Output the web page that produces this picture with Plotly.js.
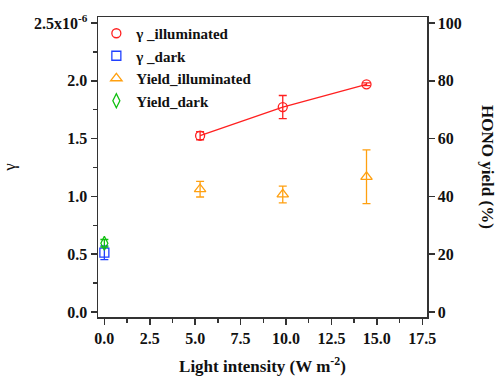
<!DOCTYPE html>
<html><head><meta charset="utf-8">
<script src="https://cdn.plot.ly/plotly-3.0.1.min.js"></script>
<style>body{margin:0;background:#fff}#c{width:497px;height:377px}</style>
</head><body><div id="c"></div>
<script>
// gamma in units of 1e-6
const illumX = [5.27, 9.82, 14.43];
const gammaIllum = [1.525, 1.773, 1.97];
const gammaIllumErr = [0.035, 0.10, 0.012];
const darkX = [0];
const gammaDark = [0.513];
const gammaDarkErr = [0.06];
const yieldIllum = [42.5, 40.7, 46.8];
const yieldIllumErr = [2.7, 2.9, 9.3];
const yieldDark = [23.8];
const yieldDarkErr = [1.3];
const yTickVals = [0, 0.5, 1.0, 1.5, 2.0, 2.5];
const yTickText = ['0.0', '0.5', '1.0', '1.5', '2.0', '2.5x10<sup>-6</sup>'];
const xTickVals = [0, 2.5, 5, 7.5, 10, 12.5, 15, 17.5];
const xTickText = ['0.0', '2.5', '5.0', '7.5', '10.0', '12.5', '15.0', '17.5'];
const y2TickVals = [0, 20, 40, 60, 80, 100];

const F = 'Liberation Serif';
const traces = [
  {x: illumX, y: gammaIllum, mode: 'lines', showlegend: false, hoverinfo: 'skip',
   line: {color: '#ff2020', width: 1.3}},
  {x: illumX, y: gammaIllum, name: '\u03b3 _illuminated', mode: 'markers',
   marker: {symbol: 'circle-open', size: 9, color: '#ff2020', line: {width: 1.3}},
   error_y: {type: 'data', array: gammaIllumErr, color: '#ff2020', thickness: 1.3, width: 4}},
  {x: darkX, y: gammaDark, name: '\u03b3 _dark', mode: 'markers',
   marker: {symbol: 'square-open', size: 9, color: '#2040ff', line: {width: 1.3}},
   error_y: {type: 'data', array: gammaDarkErr, color: '#2040ff', thickness: 1.3, width: 4}},
  {x: illumX, y: yieldIllum, name: 'Yield_illuminated', mode: 'markers', yaxis: 'y2',
   marker: {symbol: 'triangle-up-open', size: 10, color: '#ffa010', line: {width: 1.3}},
   error_y: {type: 'data', array: yieldIllumErr, color: '#ffa010', thickness: 1.3, width: 4}},
  {x: darkX, y: yieldDark, name: 'Yield_dark', mode: 'markers', yaxis: 'y2',
   marker: {symbol: 'diamond-tall-open', size: 10, color: '#10c010', line: {width: 1.3}},
   error_y: {type: 'data', array: yieldDarkErr, color: '#10c010', thickness: 1.3, width: 4}}
];
const tickFont = {family: F, size: 16, color: '#111', weight: 'bold'};
const layout = {
  width: 497, height: 377,
  margin: {l: 98, r: 70, t: 17, b: 60},
  paper_bgcolor: '#fff', plot_bgcolor: '#fff',
  font: {family: F, color: '#111'},
  showlegend: true,
  legend: {x: -0.005, y: 1.0, xanchor: 'left', yanchor: 'top', bgcolor: 'rgba(0,0,0,0)',
    font: {family: F, size: 15, color: '#111', weight: 'bold'}, tracegroupgap: 0, itemwidth: 30},
  xaxis: {range: [-0.35, 17.76], tickvals: xTickVals, ticktext: xTickText,
    ticks: 'outside', ticklen: 6, tickwidth: 1.5, tickcolor: '#333',
    minor: {dtick: 1.25, tick0: 0, ticks: 'outside', ticklen: 4, tickwidth: 1.5, tickcolor: '#333'},
    showline: true, linecolor: '#333', linewidth: 1.5, mirror: true, showgrid: false, zeroline: false,
    tickfont: tickFont,
    title: {text: 'Light intensity (W m<sup>-2</sup>)', font: {family: F, size: 17, weight: 'bold', color: '#111'}, standoff: 14}},
  yaxis: {range: [-0.043, 2.552], tickvals: yTickVals, ticktext: yTickText,
    ticks: 'outside', ticklen: 6, tickwidth: 1.5, tickcolor: '#333',
    minor: {dtick: 0.25, tick0: 0, ticks: 'outside', ticklen: 4, tickwidth: 1.5, tickcolor: '#333'},
    showline: true, linecolor: '#333', linewidth: 1.5, mirror: true, showgrid: false, zeroline: false,
    tickfont: tickFont,
    title: {text: '\u03b3', font: {family: F, size: 17, color: '#111'}, standoff: 22}},
  yaxis2: {overlaying: 'y', side: 'right', range: [-1.72, 102.1], tickvals: y2TickVals,
    ticks: 'outside', ticklen: 6, tickwidth: 1.5, tickcolor: '#333',
    showline: true, linecolor: '#333', linewidth: 1.5, showgrid: false, zeroline: false,
    tickfont: tickFont},
  annotations: [{text: 'HONO yield (%)', xref: 'paper', yref: 'paper', x: 1.22, y: 0.5,
    textangle: 90, showarrow: false, font: {family: F, size: 17, weight: 'bold', color: '#111'}}]
};
Plotly.newPlot('c', traces, layout, {displayModeBar: false, staticPlot: true});
</script></body></html>
